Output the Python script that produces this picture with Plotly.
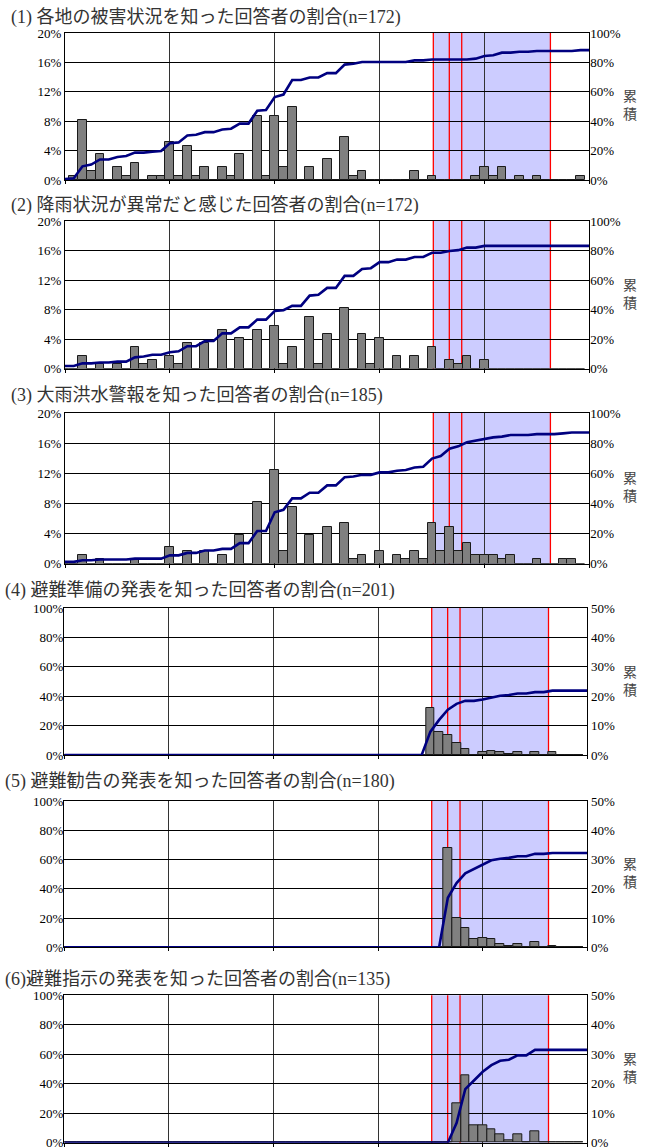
import numpy as np
import plotly.graph_objects as go

# ---------------------------------------------------------------- data
# Hourly response counts per panel (one entry per hour slot 0..59)
panel_labels = [
    "(1) 各地の被害状況を知った回答者の割合",
    "(2) 降雨状況が異常だと感じた回答者の割合",
    "(3) 大雨洪水警報を知った回答者の割合",
    "(4) 避難準備の発表を知った回答者の割合",
    "(5) 避難勧告の発表を知った回答者の割合",
    "(6)避難指示の発表を知った回答者の割合",
]
n_resp = [172, 172, 185, 201, 180, 135]
# respondents counted before the first hour slot
prior_counts = [1, 3, 2, 0, 0, 0]

hours = list(range(60))

counts_1 = [0, 1, 14, 2, 6, 0, 3, 1, 4, 0,
            1, 1, 9, 1, 8, 1, 3, 0, 3, 1,
            6, 0, 15, 1, 15, 3, 17, 0, 3, 0,
            5, 0, 10, 1, 2, 0, 0, 0, 0, 0,
            2, 0, 1, 0, 0, 0, 0, 1, 3, 1,
            3, 0, 1, 0, 1, 0, 0, 0, 0, 1]
counts_2 = [0, 0, 3, 0, 1, 0, 1, 0, 5, 1,
            2, 0, 3, 1, 6, 0, 6, 0, 9, 0,
            7, 0, 9, 0, 10, 1, 5, 0, 12, 1,
            8, 0, 14, 0, 8, 1, 7, 0, 3, 0,
            3, 0, 5, 0, 2, 1, 3, 0, 2, 0,
            0, 0, 0, 0, 0, 0, 0, 0, 0, 0]
counts_3 = [0, 0, 2, 0, 1, 0, 0, 0, 1, 0,
            0, 0, 4, 0, 3, 0, 3, 0, 2, 0,
            7, 0, 15, 0, 23, 3, 14, 0, 7, 0,
            9, 0, 10, 1, 2, 0, 3, 0, 2, 1,
            3, 1, 10, 3, 9, 3, 5, 2, 2, 2,
            1, 2, 0, 0, 1, 0, 0, 1, 1, 0]
counts_4 = [0] * 42 + [32, 16, 14, 8, 4, 0, 2, 3,
                       2, 1, 2, 0, 2, 0, 2, 0, 0, 0]
counts_5 = [0] * 44 + [61, 18, 12, 5, 6, 5,
                       2, 1, 2, 0, 3, 0, 1, 0, 0, 0]
counts_6 = [0] * 45 + [18, 31, 8, 8, 6,
                       4, 1, 4, 0, 5, 0, 0, 0, 0, 0]
all_counts = [counts_1, counts_2, counts_3, counts_4, counts_5, counts_6]

# announcement times (hour) marked with red lines; shaded between first and last
event_hours = [42.15, 43.98, 45.4, 55.55]

# scale of the axis that carries the bars in each panel
bar_axis_max = [20, 20, 20, 50, 50, 50]
bar_axis_step = [4, 4, 4, 10, 10, 10]

# ---------------------------------------------------------------- layout geometry (px)
FIG_W, FIG_H = 646, 1147
panel_box = [  # left, right, top, bottom of each plot area
    (65.0, 589.3, 33.0, 180.0),
    (65.0, 589.3, 221.0, 368.5),
    (65.0, 589.3, 413.0, 563.5),
    (64.3, 587.3, 608.0, 755.0),
    (64.3, 587.3, 801.0, 947.3),
    (64.3, 587.3, 995.3, 1142.7),
]
title_pos = [(9, 17), (9, 205.5), (9, 395), (3, 590), (3, 781), (3, 979)]

SERIF = "Liberation Serif, Noto Sans CJK JP"
tick_font = dict(family="Liberation Serif", size=13, color="#000000")

fig = go.Figure()
layout = dict(
    width=FIG_W, height=FIG_H,
    margin=dict(l=0, r=0, t=0, b=0, autoexpand=False),
    paper_bgcolor="white", plot_bgcolor="white",
    showlegend=False, bargap=0,
    shapes=[], annotations=[],
)


def px_x(v):
    return v / FIG_W


def px_y(v):
    return 1 - v / FIG_H


for i in range(6):
    xi = i + 1
    yb = 2 * i + 1   # axis carrying the bars (gridlines)
    yo = 2 * i + 2   # overlaid axis carrying the cumulative line
    xref = "x" if xi == 1 else f"x{xi}"
    ybref = "y" if yb == 1 else f"y{yb}"
    yoref = f"y{yo}"
    xkey = "xaxis" if xi == 1 else f"xaxis{xi}"
    ybkey = "yaxis" if yb == 1 else f"yaxis{yb}"
    yokey = f"yaxis{yo}"

    left, right, top, bottom = panel_box[i]
    n = n_resp[i]
    counts = np.array(all_counts[i], dtype=float)
    bar_pct = counts / n * 100
    cum = (prior_counts[i] + np.cumsum(counts)) / n * 100
    cum = np.append(cum, cum[-1])
    line_hours = list(range(61))

    bars_on_left = bar_axis_max[i] == 20

    fig.add_trace(go.Bar(
        x=hours, y=bar_pct, width=1.0,
        marker=dict(color="#808080", line=dict(color="#1a1a1a", width=1)),
        xaxis=xref, yaxis=ybref, hoverinfo="skip",
    ))
    fig.add_trace(go.Scatter(
        x=line_hours, y=cum, mode="lines",
        line=dict(color="#000080", width=2.6),
        xaxis=xref, yaxis=yoref, hoverinfo="skip",
    ))

    layout[xkey] = dict(
        domain=[px_x(left), px_x(right)], range=[0, 60], anchor=ybref,
        tickmode="array", tickvals=[0, 12, 24, 36, 48, 60],
        showticklabels=False, ticks="outside", ticklen=3, tickcolor="#000",
        showgrid=True, gridcolor="#333333", gridwidth=1,
        showline=True, linecolor="#000", linewidth=1, mirror=True,
        zeroline=False, fixedrange=True, automargin=False,
    )
    layout[ybkey] = dict(
        domain=[px_y(bottom), px_y(top)], range=[0, bar_axis_max[i]],
        tick0=0, dtick=bar_axis_step[i], ticksuffix="%",
        side="left" if bars_on_left else "right", anchor=xref,
        showgrid=True, gridcolor="#000000", gridwidth=1,
        showline=True, linecolor="#000", linewidth=1, mirror=True,
        zeroline=False, ticks="", tickfont=tick_font, fixedrange=True,
        ticklabeloverflow="allow", automargin=False,
    )
    layout[yokey] = dict(
        overlaying=ybref, range=[0, 100], tick0=0, dtick=20, ticksuffix="%",
        side="right" if bars_on_left else "left", anchor=xref,
        showgrid=False, zeroline=False, showline=False, ticks="",
        tickfont=tick_font, fixedrange=True, ticklabeloverflow="allow",
        automargin=False,
    )

    # shaded announcement window and red event lines
    layout["shapes"].append(dict(
        type="rect", xref=xref, yref=f"{ybref} domain",
        x0=event_hours[0], x1=event_hours[-1], y0=0, y1=1,
        fillcolor="#CCCCFF", line=dict(width=0), layer="below",
    ))
    for h in event_hours:
        layout["shapes"].append(dict(
            type="line", xref=xref, yref=f"{ybref} domain",
            x0=h, x1=h, y0=0, y1=1,
            line=dict(color="#FF0000", width=1.3), layer="below",
        ))

    # panel title
    tx, ty = title_pos[i]
    layout["annotations"].append(dict(
        text=f"{panel_labels[i]}(n={n})", xref="paper", yref="paper",
        x=px_x(tx), y=px_y(ty), xanchor="left", yanchor="middle",
        showarrow=False, font=dict(family=SERIF, size=18, color="#333333"),
    ))
    # vertical "累積" label beside the right axis
    mid = (top + bottom) / 2
    layout["annotations"].append(dict(
        text="累<br>積", xref="paper", yref="paper",
        x=px_x(630), y=px_y(mid - 2), xanchor="center", yanchor="middle",
        showarrow=False, borderpad=0,
        font=dict(family="Noto Sans CJK JP", size=14, color="#444444"),
    ))

fig.update_layout(**layout)
fig.write_html("out.html")
